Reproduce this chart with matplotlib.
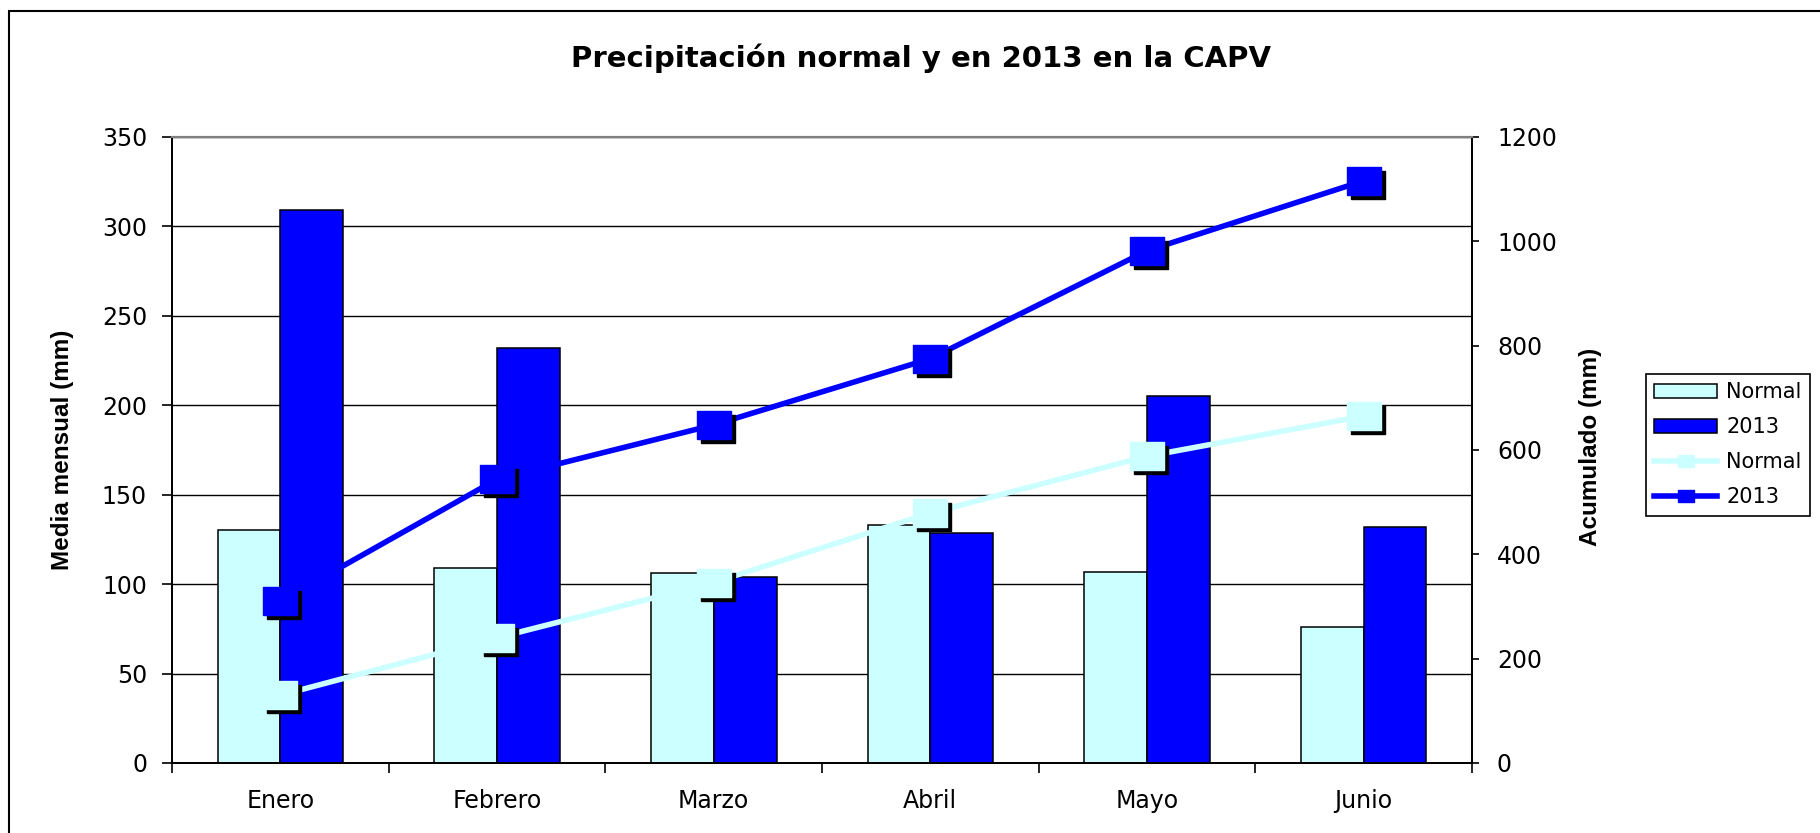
import matplotlib
matplotlib.use('Agg')
import matplotlib.pyplot as plt
import matplotlib.transforms as mtransforms
from matplotlib.patches import Rectangle, Patch
from matplotlib.lines import Line2D
import numpy as np

plt.rcParams['font.family'] = ['DejaVu Sans']

# datos
meses = ['Enero', 'Febrero', 'Marzo', 'Abril', 'Mayo', 'Junio']
normal = [130, 109, 106, 133, 107, 76]          # media mensual normal (mm)
lluvia2013 = [309, 232, 104, 128.5, 205, 132]   # media mensual 2013 (mm)
acum_normal = [130, 240, 346, 479, 588, 665]    # acumulado normal (mm)
acum2013 = [310, 544, 648, 775, 982, 1116]      # acumulado 2013 (mm)
titulo = 'Precipitación normal y en 2013 en la CAPV'

cyan = '#CCFFFF'
azul = '#0000FF'
# marcador "cuadrado" algo ensanchado, como en el original
rect = [(-1.22, -1), (1.22, -1), (1.22, 1), (-1.22, 1), (-1.22, -1)]

W, H = 1820, 833
fig = plt.figure(figsize=(W/100, H/100), dpi=100)
ax = fig.add_axes([172/W, 1-763/H, 1300/W, (763-137)/H])

x = np.arange(len(meses))
w = 0.29
ax.bar(x - w/2, normal, w, color=cyan, edgecolor='black', linewidth=1.1, zorder=2)
ax.bar(x + w/2, lluvia2013, w, color=azul, edgecolor='black', linewidth=1.1, zorder=2)

ax.set_xlim(-0.5, len(meses) - 0.5)
ax.set_ylim(0, 350)
ax.set_yticks(range(0, 351, 50))
ax.yaxis.grid(True, color='black', linewidth=1)
ax.set_axisbelow(True)

# ticks del eje x entre categorias, etiquetas en el centro
ax.set_xticks(np.arange(-0.5, len(meses), 1))
ax.set_xticklabels([])
ax.set_xticks(x, minor=True)
ax.set_xticklabels(meses, minor=True)
ax.tick_params(axis='x', which='major', direction='out', length=7, width=1.2)
ax.tick_params(axis='x', which='minor', length=0, pad=19, labelsize=17)
ax.tick_params(axis='y', direction='out', length=7, width=1.2, pad=11, labelsize=17)

ax2 = ax.twinx()
ax2.set_ylim(0, 1200)
ax2.set_yticks(range(0, 1201, 200))
ax2.tick_params(axis='y', direction='out', length=5, width=1.2, pad=13, labelsize=17)

for a in (ax, ax2):
    a.spines['top'].set_color('#808080')
    a.spines['top'].set_linewidth(1.5)
    a.spines['left'].set_linewidth(1.3)
    a.spines['right'].set_linewidth(1.3)
    a.spines['bottom'].set_linewidth(1.3)

sombra = mtransforms.offset_copy(ax2.transData, fig=fig, x=4, y=-4, units='dots')
for serie, col in ((acum_normal, cyan), (acum2013, azul)):
    ax2.plot(x, serie, color=col, linewidth=4, zorder=3)
    ax2.plot(x, serie, ls='none', marker=rect, ms=24, color='black', transform=sombra, zorder=3)
    ax2.plot(x, serie, ls='none', marker=rect, ms=24, color=col, mec=col, zorder=3)

fig.text(63/W, 1-450/H, 'Media mensual (mm)', rotation=90, ha='center', va='center',
         fontsize=17.5, fontweight='bold', family='Liberation Sans')
fig.text(1590/W, 1-447/H, 'Acumulado (mm)', rotation=90, ha='center', va='center',
         fontsize=17.5, fontweight='bold', family='Liberation Sans')
fig.text(0.506, 1-67/H, titulo, ha='center', va='baseline', fontsize=21, fontweight='bold')

handles = [Patch(facecolor=cyan, edgecolor='black', linewidth=1.1),
           Patch(facecolor=azul, edgecolor='black', linewidth=1.1),
           Line2D([], [], color=cyan, linewidth=4, marker=rect, ms=11),
           Line2D([], [], color=azul, linewidth=4, marker=rect, ms=11)]
leg = fig.legend(handles, ['Normal', '2013', 'Normal', '2013'], loc='upper left',
                 bbox_to_anchor=(1646/W, 1-374/H), bbox_transform=fig.transFigure,
                 fontsize=15, handlelength=3.0, handleheight=0.6, handletextpad=0.45,
                 labelspacing=0.72, borderpad=0.4, borderaxespad=0, fancybox=False,
                 edgecolor='black', framealpha=1)
leg.get_frame().set_linewidth(1.2)

# marco exterior del grafico
fig.patches.append(Rectangle((9/W, -0.1), 2, 1.1 - 11/H, transform=fig.transFigure,
                             fill=False, edgecolor='black', linewidth=1.5))

fig.savefig('out.png', dpi=100)
